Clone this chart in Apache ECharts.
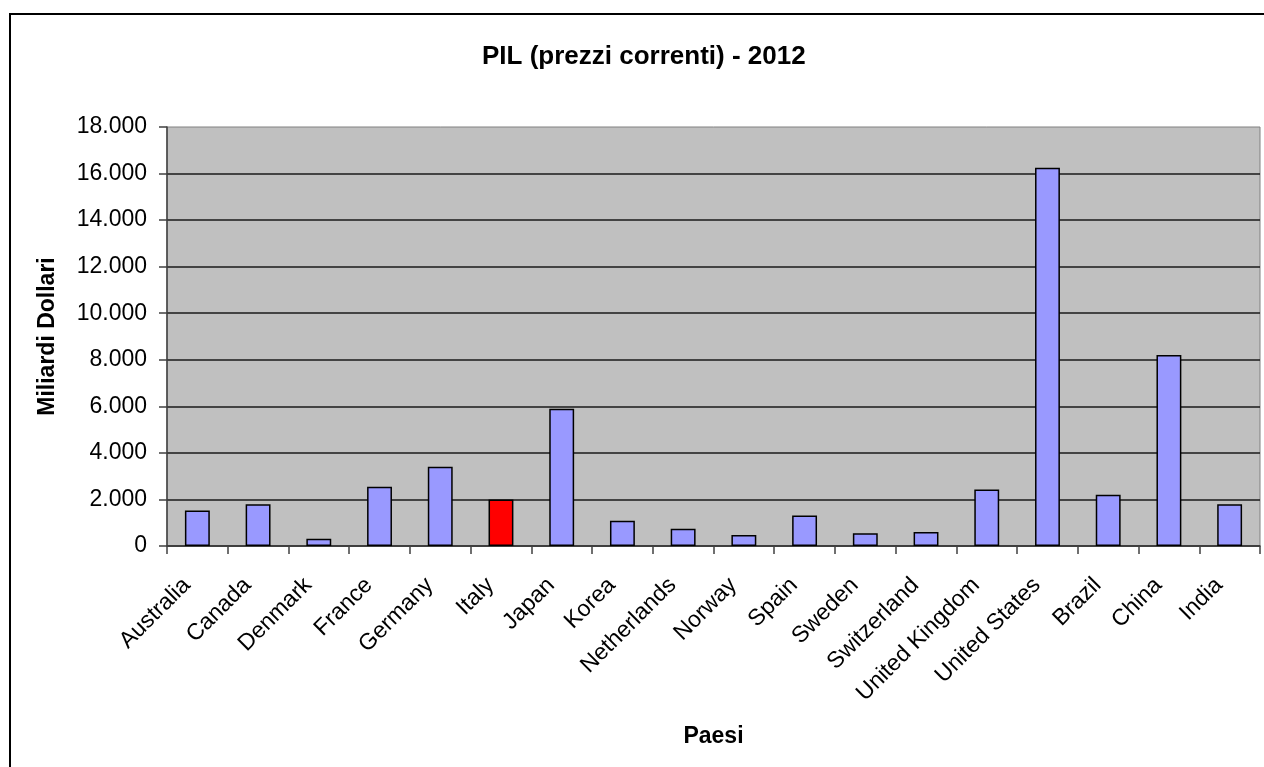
<!DOCTYPE html>
<html>
<head>
<meta charset="utf-8">
<script src="https://cdn.jsdelivr.net/npm/echarts@6/dist/echarts.min.js"></script>
<style>
  html, body { margin: 0; padding: 0; background: #fff; }
  #chart { width: 1264px; height: 767px; }
</style>
</head>
<body>
<div id="chart"></div>
<script>
// PIL 2012, miliardi di dollari a prezzi correnti
const countries = ['Australia', 'Canada', 'Denmark', 'France', 'Germany', 'Italy', 'Japan', 'Korea',
  'Netherlands', 'Norway', 'Spain', 'Sweden', 'Switzerland', 'United Kingdom', 'United States',
  'Brazil', 'China', 'India'];
const gdp = [1530, 1790, 315, 2550, 3400, 2000, 5900, 1090,
  745, 475, 1305, 545, 600, 2425, 16250,
  2205, 8200, 1790];
const highlighted = 'Italy';
const yTicks = { min: 0, max: 18000, step: 2000 };

const FONT = '"Liberation Sans", Arial, sans-serif';
const fmtThousands = v => String(v).replace(/\B(?=(\d{3})+(?!\d))/g, '.');

const chart = echarts.init(document.getElementById('chart'));
chart.setOption({
  animation: false,
  backgroundColor: '#ffffff',
  title: {
    text: 'PIL (prezzi correnti) - 2012',
    left: 477,
    top: 39,
    textStyle: { fontFamily: FONT, fontSize: 26, fontWeight: 'bold', color: '#000' }
  },
  graphic: [{
    type: 'rect',
    shape: { x: 10, y: 14, width: 1400, height: 900 },
    style: { fill: 'none', stroke: '#000', lineWidth: 2 },
    silent: true
  }],
  grid: {
    left: 167, right: 4, top: 127, bottom: 221,
    show: true, backgroundColor: '#C0C0C0', borderColor: '#808080', borderWidth: 1
  },
  xAxis: {
    type: 'category',
    data: countries,
    name: 'Paesi',
    nameLocation: 'middle',
    nameGap: 179,
    nameTextStyle: { fontFamily: FONT, fontSize: 23, fontWeight: 'bold', color: '#000' },
    axisLine: { lineStyle: { color: '#404040', width: 1.5 } },
    axisTick: { show: true, interval: 0, length: 8, lineStyle: { color: '#404040', width: 1.5 } },
    axisLabel: {
      interval: 0, rotate: 45, margin: 25, padding: [0, 15, 0, 0],
      fontFamily: FONT, fontSize: 23, color: '#000'
    }
  },
  yAxis: {
    type: 'value',
    min: yTicks.min, max: yTicks.max, interval: yTicks.step,
    name: 'Miliardi Dollari',
    nameLocation: 'middle',
    nameRotate: 90,
    nameGap: 108,
    nameTextStyle: { fontFamily: FONT, fontSize: 23, fontWeight: 'bold', color: '#000' },
    axisLine: { show: true, lineStyle: { color: '#404040', width: 1.5 } },
    axisTick: { show: true, length: 8, lineStyle: { color: '#404040', width: 1.5 } },
    axisLabel: {
      margin: 20, fontFamily: FONT, fontSize: 23, color: '#000',
      formatter: fmtThousands
    },
    splitLine: { show: true, showMaxLine: false, lineStyle: { color: '#1a1a1a', width: 1.5 } }
  },
  series: [{
    type: 'bar',
    data: gdp.map((v, i) => ({
      value: v,
      itemStyle: { color: countries[i] === highlighted ? '#FF0000' : '#9999FF' }
    })),
    barWidth: '41%',
    itemStyle: { borderColor: '#000', borderWidth: 1.5 }
  }]
});
</script>
</body>
</html>
